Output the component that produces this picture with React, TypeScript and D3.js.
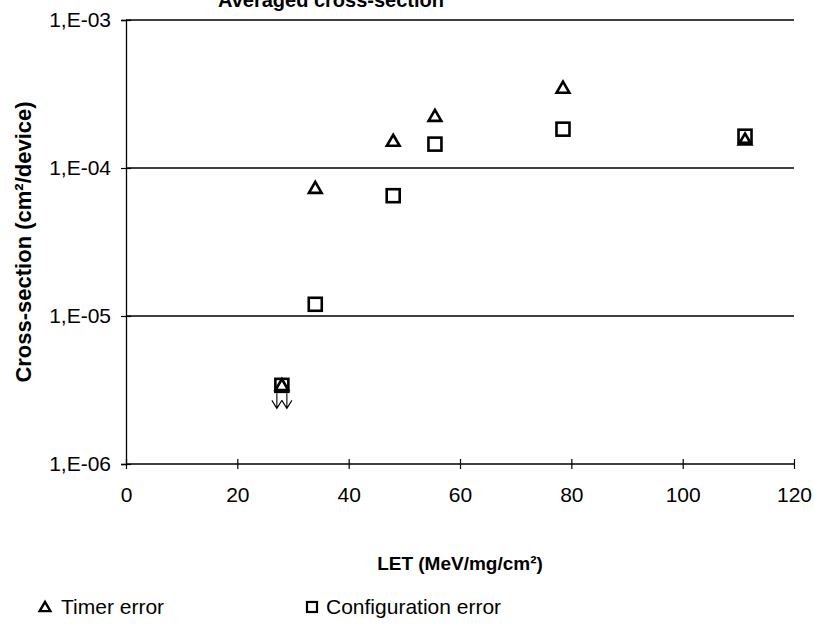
import * as d3 from "d3";
import { useEffect, useRef } from "react";

// LET values (MeV/mg/cm²) and averaged cross-sections (cm²/device)
const letValues = [28, 34, 48, 55.5, 78.5, 111.2];
const timerError = [3.4e-6, 7.3e-5, 1.52e-4, 2.24e-4, 3.47e-4, 1.55e-4];
const configError = [3.4e-6, 1.2e-5, 6.5e-5, 1.45e-4, 1.83e-4, 1.64e-4];
// points that are only upper limits (no event seen) get a down arrow
const upperLimit = [true, false, false, false, false, false];

const xTicks = [0, 20, 40, 60, 80, 100, 120];
const yTicks = [1e-6, 1e-5, 1e-4, 1e-3];

export default function App() {
    const ref = useRef<SVGSVGElement>(null);

    useEffect(() => {
        const width = 814;
        const height = 635;
        const margin = { top: 20, right: 20, bottom: 171, left: 126 };
        const font = "'Liberation Sans', Arial, sans-serif";

        const svg = d3.select(ref.current)
            .attr('width', width)
            .attr('height', height);

        svg.selectAll('*').remove();

        const x = d3.scaleLinear()
            .domain([0, 120])
            .range([margin.left, width - margin.right]);

        const y = d3.scaleLog()
            .domain([1e-6, 1e-3])
            .range([height - margin.bottom, margin.top]);

        // title, cut off by the top edge as in the scan
        svg.append('text')
            .attr('x', 218)
            .attr('y', 7)
            .style('font-family', font)
            .style('font-weight', 'bold')
            .style('font-size', '20px')
            .text('Averaged cross-section');

        // horizontal grid lines at each decade
        svg.selectAll('.grid')
            .data(yTicks.slice(1))
            .join('line')
            .classed('grid', true)
            .attr('x1', x(0))
            .attr('x2', x(120))
            .attr('y1', d => y(d))
            .attr('y2', d => y(d))
            .attr('stroke', '#000')
            .attr('stroke-width', 1.3);

        // y axis
        svg.append('g')
            .attr('transform', `translate(${x(0)},0)`)
            .call(d3.axisLeft(y).tickValues(yTicks).tickSize(5).tickPadding(10)
                .tickFormat(d => `1,E-${String(Math.round(-Math.log10(+d))).padStart(2, '0')}`))
            .call(g => g.select('.domain').attr('stroke-width', 1.3))
            .call(g => g.selectAll('.tick line').attr('x2', 5).attr('x1', -5).attr('stroke-width', 1.2))
            .call(g => g.selectAll('text').style('font-family', font).style('font-size', '21px').attr('x', -15));

        // x axis
        svg.append('g')
            .attr('transform', `translate(0,${y(1e-6)})`)
            .call(d3.axisBottom(x).tickValues(xTicks).tickSize(5).tickPadding(18))
            .call(g => g.select('.domain').attr('stroke-width', 1.3).attr('d', `M${x(0)},0H${x(120)}`))
            .call(g => g.selectAll('.tick line').attr('y1', -5).attr('y2', 5).attr('stroke-width', 1.2))
            .call(g => g.selectAll('text').style('font-family', font).style('font-size', '21px'));

        // axis titles
        svg.append('text')
            .attr('transform', `translate(31,${(y(1e-6) + y(1e-3)) / 2}) rotate(-90)`)
            .attr('text-anchor', 'middle')
            .style('font-family', font)
            .style('font-weight', 'bold')
            .style('font-size', '22px')
            .text('Cross-section (cm²/device)');

        svg.append('text')
            .attr('x', (x(0) + x(120)) / 2)
            .attr('y', 570)
            .attr('text-anchor', 'middle')
            .style('font-family', font)
            .style('font-weight', 'bold')
            .style('font-size', '19px')
            .text('LET (MeV/mg/cm²)');

        const tri = d3.symbol().type(d3.symbolTriangle).size(70);

        // down arrows for upper limits
        const arrows = svg.append('g');
        letValues.forEach((v, i) => {
            if (!upperLimit[i]) return;
            [-5, 5].forEach(dx => {
                const cx = x(v) + dx;
                const top = y(configError[i]) + 8;
                arrows.append('path')
                    .attr('d', `M${cx},${top}V${top + 15}M${cx - 5},${top + 7}L${cx},${top + 15}L${cx + 5},${top + 7}`)
                    .attr('fill', 'none')
                    .attr('stroke', '#000')
                    .attr('stroke-width', 1.1);
            });
        });

        // configuration error squares
        svg.selectAll('.cfg')
            .data(letValues)
            .join('rect')
            .classed('cfg', true)
            .attr('x', d => x(d) - 6.5)
            .attr('y', (d, i) => y(configError[i]) - 6.5)
            .attr('width', 13)
            .attr('height', 13)
            .attr('fill', 'none')
            .attr('stroke', '#000')
            .attr('stroke-width', 2.6);

        // timer error triangles
        svg.selectAll('.timer')
            .data(letValues)
            .join('path')
            .classed('timer', true)
            .attr('transform', (d, i) => `translate(${x(d)},${y(timerError[i]) + 1})`)
            .attr('d', tri)
            .attr('fill', 'none')
            .attr('stroke', '#000')
            .attr('stroke-width', 2.6);

        // legend
        const legend = svg.append('g').attr('transform', 'translate(0,607)');
        legend.append('path')
            .attr('transform', 'translate(45,1)')
            .attr('d', d3.symbol().type(d3.symbolTriangle).size(50))
            .attr('fill', 'none')
            .attr('stroke', '#000')
            .attr('stroke-width', 2.4);
        legend.append('text')
            .attr('x', 61)
            .attr('y', 7)
            .style('font-family', font)
            .style('font-size', '21px')
            .text('Timer error');
        legend.append('rect')
            .attr('x', 307)
            .attr('y', -5)
            .attr('width', 10)
            .attr('height', 10)
            .attr('fill', 'none')
            .attr('stroke', '#000')
            .attr('stroke-width', 2.2);
        legend.append('text')
            .attr('x', 326)
            .attr('y', 7)
            .style('font-family', font)
            .style('font-size', '21px')
            .text('Configuration error');
    }, []);

    return (
        <svg ref={ref} style={{ position: 'absolute', left: 0, top: 0, background: '#fff' }}></svg>
    );
}
